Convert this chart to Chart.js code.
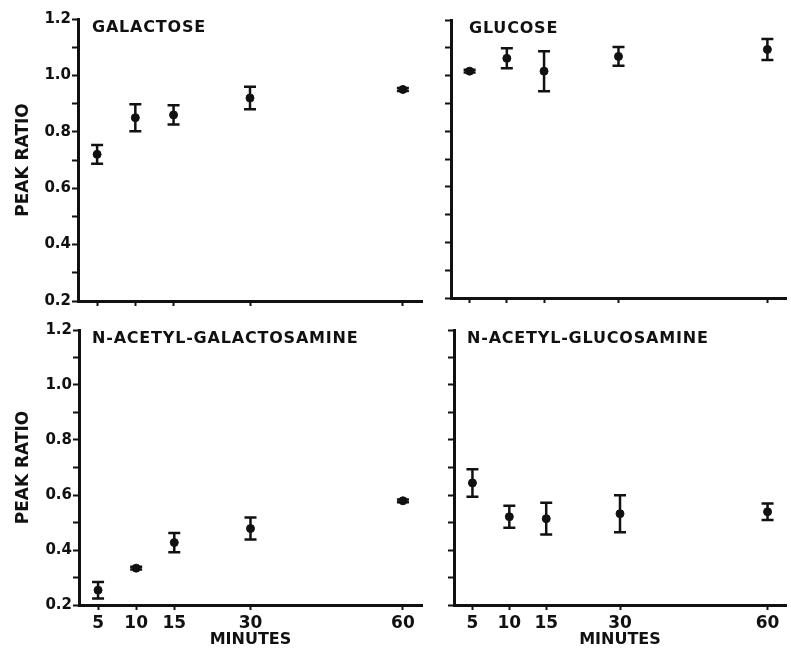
<!DOCTYPE html>
<html>
<head>
<meta charset="utf-8">
<script src="https://cdn.jsdelivr.net/npm/chart.js@4.4.0/dist/chart.umd.min.js"></script>
<style>
  body { margin: 0; background: #fff; }
  #wrap { position: relative; width: 791px; height: 649px; overflow: hidden; background: #fff; }
  canvas { position: absolute; }
</style>
</head>
<body>
<div id="wrap">
  <canvas id="c1" width="430" height="320" style="left:0;top:0"></canvas>
  <canvas id="c2" width="361" height="320" style="left:430px;top:0"></canvas>
  <canvas id="c3" width="430" height="329" style="left:0;top:320px"></canvas>
  <canvas id="c4" width="361" height="329" style="left:430px;top:320px"></canvas>
</div>
<script>
// Datos
const minutes = ['5', '10', '15', '30', '60'];
// eje x con huecos para respetar la separación original
const xTickLabels = ['5', '10', '15', '', '30', '', '', '', '60'];

const galactoseMean = [0.72, 0.85, 0.86, 0.92, 0.95];
const galactoseErr = [0.033, 0.048, 0.034, 0.04, 0.005];

const glucoseMean = [1.016, 1.062, 1.016, 1.069, 1.094];
const glucoseErr = [0.005, 0.036, 0.072, 0.034, 0.038];

const galNAcMean = [0.254, 0.334, 0.427, 0.478, 0.579];
const galNAcErr = [0.03, 0.005, 0.035, 0.04, 0.005];

const gluNAcMean = [0.644, 0.521, 0.514, 0.532, 0.539];
const gluNAcErr = [0.05, 0.04, 0.058, 0.067, 0.03];

const ink = '#111';
const font = 'DejaVu Sans';

// Barras de error dibujadas con la escala y del gráfico
const errorBars = {
    id: 'errorBars',
    afterDatasetsDraw(chart) {
        const ctx = chart.ctx;
        const yScale = chart.scales.y;
        chart.data.datasets.forEach((ds, di) => {
            const meta = chart.getDatasetMeta(di);
            meta.data.forEach((pt, i) => {
                const d = ds.data[i];
                const top = yScale.getPixelForValue(d.y + d.err);
                const bot = yScale.getPixelForValue(d.y - d.err);
                ctx.save();
                ctx.strokeStyle = ink;
                ctx.lineWidth = 2.5;
                ctx.beginPath();
                ctx.moveTo(pt.x, top);
                ctx.lineTo(pt.x, bot);
                ctx.moveTo(pt.x - 6, top);
                ctx.lineTo(pt.x + 6, top);
                ctx.moveTo(pt.x - 6, bot);
                ctx.lineTo(pt.x + 6, bot);
                ctx.stroke();
                ctx.restore();
            });
        });
    }
};

// Título dentro del panel, arriba a la izquierda
const panelTitle = {
    id: 'panelTitle',
    afterDraw(chart, args, opts) {
        const ctx = chart.ctx;
        const area = chart.chartArea;
        ctx.save();
        ctx.fillStyle = ink;
        ctx.font = 'bold 16px "' + font + '"';
        ctx.letterSpacing = '0.8px';
        ctx.textBaseline = 'alphabetic';
        ctx.fillText(opts.text, area.left + opts.dx, area.top + 13);
        ctx.restore();
    }
};

function makePanel(canvasId, title, means, errs, cfg) {
    const points = minutes.map((m, i) => ({ x: m, y: means[i], err: errs[i] }));
    const ctx = document.getElementById(canvasId).getContext('2d');

    return new Chart(ctx, {
        type: 'line',
        data: {
            labels: xTickLabels,
            datasets: [{
                data: points,
                showLine: false,
                pointRadius: 4,
                pointBackgroundColor: ink,
                pointBorderColor: ink,
                pointBorderWidth: 1
            }]
        },
        options: {
            responsive: false,
            animation: false,
            events: [],
            layout: { padding: cfg.padding },
            plugins: {
                legend: { display: false },
                tooltip: { enabled: false },
                panelTitle: { text: title, dx: cfg.titleDx }
            },
            scales: {
                x: {
                    type: 'category',
                    offset: true,
                    afterFit: scale => { scale.height = cfg.xHeight; },
                    border: { display: true, color: ink, width: 3 },
                    grid: {
                        drawOnChartArea: false,
                        drawTicks: true,
                        tickLength: 5,
                        tickWidth: 2,
                        tickColor: c => xTickLabels[c.index] ? ink : 'rgba(0,0,0,0)'
                    },
                    ticks: {
                        autoSkip: false,
                        maxRotation: 0,
                        padding: 3,
                        color: ink,
                        font: { family: font, size: 17, weight: 'bold' },
                        callback: (v, i) => cfg.showXLabels ? xTickLabels[i] : ''
                    },
                    title: {
                        display: cfg.showXLabels,
                        text: 'MINUTES',
                        color: ink,
                        padding: { top: 0, bottom: 0 },
                        font: { family: font, size: 16, weight: 'bold' }
                    }
                },
                y: {
                    min: 0.2,
                    max: 1.2,
                    afterFit: scale => { scale.width = cfg.yWidth; },
                    border: { display: true, color: ink, width: 3 },
                    grid: {
                        drawOnChartArea: false,
                        drawTicks: true,
                        tickLength: 6,
                        tickWidth: 2,
                        tickColor: ink
                    },
                    ticks: {
                        stepSize: 0.1,
                        padding: 1,
                        color: ink,
                        font: { family: font, size: 15, weight: 'bold' },
                        callback: v => {
                            if (!cfg.showYLabels) return '';
                            return Math.round(v * 10) % 2 === 0 ? v.toFixed(1) : '';
                        }
                    },
                    title: {
                        display: cfg.showYLabels,
                        text: 'PEAK RATIO',
                        color: ink,
                        padding: { top: 3, bottom: 0 },
                        font: { family: font, size: 17, weight: 'bold' }
                    }
                }
            }
        },
        plugins: [errorBars, panelTitle]
    });
}

makePanel('c1', 'GALACTOSE', galactoseMean, galactoseErr, {
    padding: { left: 10, top: 19, right: 8, bottom: 0 },
    yWidth: 68, xHeight: 19, showYLabels: true, showXLabels: false, titleDx: 14
});
makePanel('c2', 'GLUCOSE', glucoseMean, glucoseErr, {
    padding: { left: 0, top: 20, right: 0, bottom: 0 },
    yWidth: 21, xHeight: 22, showYLabels: false, showXLabels: false, titleDx: 18
});
makePanel('c3', 'N-ACETYL-GALACTOSAMINE', galNAcMean, galNAcErr, {
    padding: { left: 10, top: 8, right: 8, bottom: 0 },
    yWidth: 69, xHeight: 44, showYLabels: true, showXLabels: true, titleDx: 13
});
makePanel('c4', 'N-ACETYL-GLUCOSAMINE', gluNAcMean, gluNAcErr, {
    padding: { left: 0, top: 9, right: 0, bottom: 0 },
    yWidth: 24, xHeight: 44, showYLabels: false, showXLabels: true, titleDx: 13
});
</script>
</body>
</html>
